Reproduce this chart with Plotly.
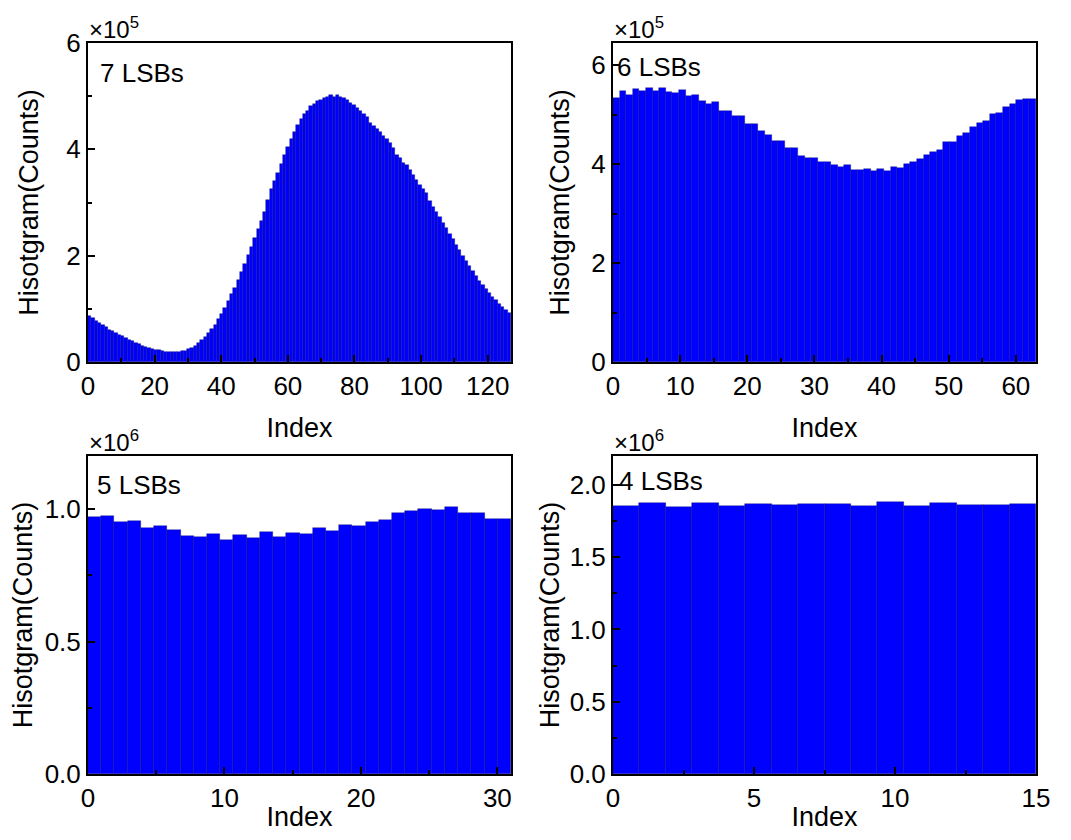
import plotly.graph_objects as go

# page body has an 8px margin, so the figure is drawn 8px in from the corner
OFF = 8
W, H = 1071 - 2 * OFF, 840 - 2 * OFF

# ---- data ----
lsb7_counts_e5 = [
    0.86, 0.82, 0.77, 0.73, 0.69, 0.65, 0.61, 0.58, 0.55, 0.51,
    0.48, 0.45, 0.42, 0.39, 0.36, 0.34, 0.31, 0.29, 0.27, 0.25,
    0.23, 0.22, 0.20, 0.19, 0.18, 0.18, 0.18, 0.19, 0.20, 0.21,
    0.24, 0.27, 0.31, 0.36, 0.41, 0.47, 0.54, 0.62, 0.70, 0.80,
    0.90, 1.02, 1.14, 1.27, 1.40, 1.55, 1.69, 1.85, 2.01, 2.16,
    2.33, 2.50, 2.66, 2.83, 3.05, 3.25, 3.40, 3.55, 3.72, 3.90,
    4.05, 4.20, 4.33, 4.45, 4.58, 4.66, 4.72, 4.81, 4.86, 4.91,
    4.93, 4.97, 4.99, 5.02, 4.99, 5.03, 4.98, 4.97, 4.92, 4.88,
    4.83, 4.78, 4.72, 4.66, 4.60, 4.50, 4.44, 4.38, 4.32, 4.26,
    4.20, 4.12, 4.03, 3.90, 3.83, 3.75, 3.70, 3.62, 3.52, 3.42,
    3.33, 3.25, 3.17, 3.02, 2.92, 2.82, 2.72, 2.62, 2.52, 2.41,
    2.31, 2.20, 2.10, 2.00, 1.90, 1.80, 1.71, 1.62, 1.53, 1.45,
    1.37, 1.30, 1.23, 1.16, 1.09, 1.03, 0.97, 0.92,
]
lsb6_counts_e5 = [
    5.33, 5.47, 5.40, 5.52, 5.48, 5.54, 5.48, 5.55, 5.45, 5.43,
    5.49, 5.37, 5.39, 5.27, 5.21, 5.25, 5.08, 5.08, 4.97, 4.97,
    4.81, 4.81, 4.67, 4.60, 4.46, 4.46, 4.32, 4.32, 4.17, 4.13,
    4.13, 4.05, 4.05, 3.98, 3.95, 3.98, 3.89, 3.88, 3.91, 3.87,
    3.90, 3.87, 3.94, 3.93, 4.01, 4.05, 4.11, 4.18, 4.25, 4.28,
    4.44, 4.44, 4.57, 4.64, 4.75, 4.84, 4.87, 5.02, 5.04, 5.16,
    5.21, 5.29, 5.31, 5.31,
]
lsb5_counts_e6 = [
    0.971, 0.974, 0.950, 0.956, 0.928, 0.936, 0.919, 0.898, 0.894, 0.907,
    0.884, 0.902, 0.889, 0.912, 0.894, 0.908, 0.906, 0.927, 0.918, 0.941,
    0.935, 0.951, 0.958, 0.984, 0.991, 1.000, 0.997, 1.009, 0.986, 0.985,
    0.963, 0.963,
]
lsb4_counts_e6 = [
    1.854, 1.877, 1.850, 1.877, 1.852, 1.868, 1.859, 1.865, 1.865, 1.852,
    1.881, 1.852, 1.874, 1.859, 1.859, 1.870,
]

panel_labels = ["7 LSBs", "6 LSBs", "5 LSBs", "4 LSBs"]
panel_exponents = [5, 5, 6, 6]
x_tick_steps = [20, 10, 10, 5]
y_ranges = [[0, 6], [0, 6.45], [0, 1.2], [0, 2.2]]
y_tick_steps = [2, 2, 0.5, 0.5]
y_tick_formats = ["d", "d", ".1f", ".1f"]
series = [lsb7_counts_e5, lsb6_counts_e5, lsb5_counts_e6, lsb4_counts_e6]

# ---- layout geometry (screen pixels of the reference) ----
boxes = [  # left, right, top, bottom
    (88, 511, 43, 362),
    (613, 1036, 43, 362),
    (88, 511, 456, 774),
    (613, 1036, 456, 774),
]
label_pos = [(98, 73), (615, 67), (95, 485), (617, 481)]
ytitle_standoff = [20, 14, 6, 2]
xtitle_standoff = [18, 18, 18, 18]

FONT = "Liberation Sans, Arial, sans-serif"
BLUE = "#0000FF"
TICK_SIZE = 26
TITLE_SIZE = 27


def px(xs):
    return (xs - OFF) / W


def py(ys):
    return 1 - (ys - OFF) / H


fig = go.Figure()
layout = dict(
    width=W, height=H,
    margin=dict(l=0, r=0, t=0, b=0),
    paper_bgcolor="white", plot_bgcolor="white",
    showlegend=False, bargap=0,
    font=dict(family=FONT, color="black", size=TICK_SIZE),
    annotations=[],
)

for k, vals in enumerate(series):
    n = len(vals)
    x_max = n - 1
    width = x_max / n
    xs = [(i + 0.5) * width for i in range(n)]
    sfx = "" if k == 0 else str(k + 1)
    fig.add_trace(go.Bar(
        x=xs, y=vals, width=width,
        marker=dict(color=BLUE, line=dict(color="rgba(0,0,90,0.55)", width=0.6)),
        xaxis="x" + sfx, yaxis="y" + sfx,
    ))
    l, r, t, b = boxes[k]
    axis_common = dict(
        showline=True, linecolor="black", linewidth=2, mirror=True,
        ticks="inside", tickcolor="black", tickwidth=2, ticklen=7,
        showgrid=False, zeroline=False, automargin=False,
        tickfont=dict(family=FONT, size=TICK_SIZE, color="black"),
    )
    layout["xaxis" + sfx] = dict(
        axis_common,
        domain=[px(l), px(r)], anchor="y" + sfx,
        range=[0, x_max], tick0=0, dtick=x_tick_steps[k],
        minor=dict(ticks="inside", ticklen=4, tickwidth=2, tickcolor="black",
                   dtick=x_tick_steps[k] / 2, tick0=0, showgrid=False),
        title=dict(text="Index", font=dict(family=FONT, size=TITLE_SIZE),
                   standoff=xtitle_standoff[k]),
    )
    layout["yaxis" + sfx] = dict(
        axis_common,
        domain=[py(b), py(t)], anchor="x" + sfx,
        range=y_ranges[k], tick0=0, dtick=y_tick_steps[k],
        tickformat=y_tick_formats[k],
        minor=dict(ticks="inside", ticklen=4, tickwidth=2, tickcolor="black",
                   dtick=y_tick_steps[k] / 2, tick0=0, showgrid=False),
        title=dict(text="Hisotgram(Counts)", font=dict(family=FONT, size=TITLE_SIZE),
                   standoff=ytitle_standoff[k]),
    )
    # multiplier label
    layout["annotations"].append(dict(
        text="×10<sup>%d</sup>" % panel_exponents[k],
        x=px(l - 1), y=py(t - 15), xref="paper", yref="paper",
        xanchor="left", yanchor="middle", showarrow=False,
        font=dict(family=FONT, size=24, color="black"),
    ))
    lx, ly = label_pos[k]
    layout["annotations"].append(dict(
        text=panel_labels[k],
        x=px(lx), y=py(ly), xref="paper", yref="paper",
        xanchor="left", yanchor="middle", showarrow=False,
        font=dict(family=FONT, size=TICK_SIZE, color="black"),
    ))

fig.update_layout(**layout)
fig.write_html("out.html")
